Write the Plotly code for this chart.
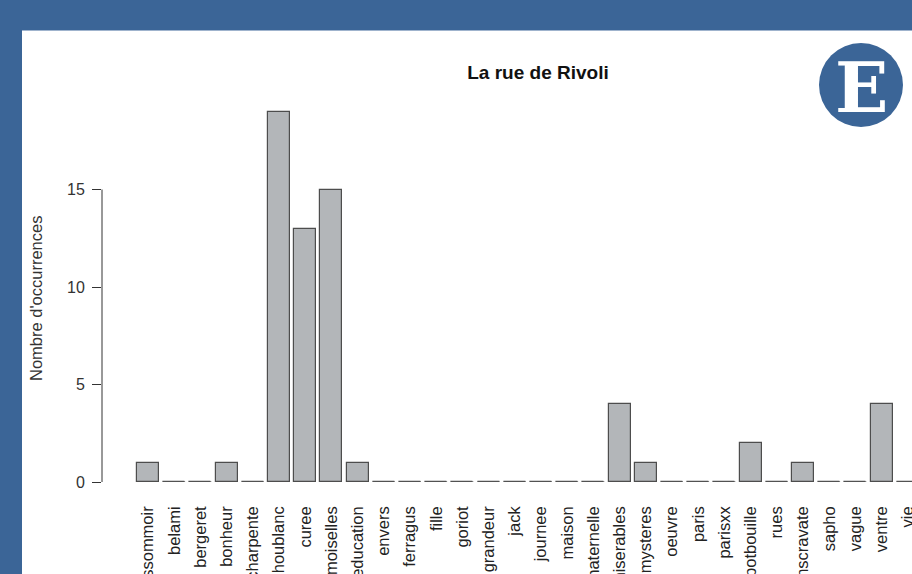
import plotly.graph_objects as go

categories = ["assommoir", "belami", "bergeret", "bonheur", "charpente", "houblanc",
              "curee", "demoiselles", "education", "envers", "ferragus", "fille",
              "goriot", "grandeur", "jack", "journee", "maison", "maternelle",
              "miserables", "mysteres", "oeuvre", "paris", "parisxx", "potbouille",
              "rues", "sanscravate", "sapho", "vague", "ventre", "vie"]
counts = [1, 0, 0, 1, 0, 19, 13, 15, 1, 0, 0, 0, 0, 0, 0, 0, 0, 0,
          4, 1, 0, 0, 0, 2, 0, 1, 0, 0, 4, 0]
y_ticks = [0, 5, 10, 15]

title_text = "La rue de Rivoli"
y_title = "Nombre d'occurrences"

BLUE = "#3b6597"
BAR_FILL = "#b3b6b9"
BAR_EDGE = "#4d4d4d"
FONT = "Liberation Sans, Arial, sans-serif"
BAR_W = 1 / 1.2

W, H = 912, 574
ML, MR, MT, MB = 102, 0, 100, 92
PW = W - ML - MR
PH = H - MT - MB
SLOT = 26.2  # px per category
first_center_px = 148

x_idx = list(range(len(categories)))
x0 = -(first_center_px - ML) / SLOT
x1 = x0 + PW / SLOT
y_max = PH / 19.5


def px_to_paper_x(px):
    return (px - ML) / PW


def py_to_paper_y(py):
    return (H - MB - py) / PH


fig = go.Figure()

fig.add_trace(go.Bar(
    x=x_idx, y=counts, width=BAR_W,
    marker=dict(color=BAR_FILL, line=dict(color=BAR_EDGE, width=1.2)),
    hoverinfo="x+y", showlegend=False,
))

# zero-height bars drawn as outline segments (as R does)
zx, zy = [], []
for i, v in zip(x_idx, counts):
    if v == 0:
        zx += [i - BAR_W / 2, i + BAR_W / 2, None]
        zy += [0, 0, None]
fig.add_trace(go.Scatter(x=zx, y=zy, mode="lines",
                         line=dict(color="#555555", width=1.3),
                         hoverinfo="skip", showlegend=False, cliponaxis=False))

shapes = [
    # white panel inside blue frame
    dict(type="rect", xref="paper", yref="paper", layer="below",
         x0=px_to_paper_x(22), x1=1.2, y0=-0.5, y1=py_to_paper_y(30),
         fillcolor="white", line=dict(width=0)),
    dict(type="line", xref="paper", yref="paper", layer="below",
         x0=px_to_paper_x(22), x1=1.2, y0=py_to_paper_y(30.5), y1=py_to_paper_y(30.5),
         line=dict(color="#9fb3cd", width=1)),
    # R-style y axis line from 0 to 15
    dict(type="line", xref="paper", yref="y", x0=0, x1=0,
         y0=y_ticks[0], y1=y_ticks[-1], line=dict(color="#333333", width=1)),
    # logo circle
    dict(type="circle", xref="paper", yref="paper",
         x0=px_to_paper_x(819), x1=px_to_paper_x(903),
         y0=py_to_paper_y(127), y1=py_to_paper_y(43),
         fillcolor=BLUE, line=dict(width=0), layer="above"),
]

annotations = [
    dict(text=y_title, xref="paper", yref="paper",
         x=px_to_paper_x(36), y=py_to_paper_y(299), textangle=-90,
         showarrow=False, font=dict(family=FONT, size=16.5, color="#333333"),
         xanchor="center", yanchor="middle"),
    dict(text="<b>E</b>", xref="paper", yref="paper",
         x=px_to_paper_x(861), y=py_to_paper_y(87), showarrow=False,
         font=dict(family="DejaVu Serif, Liberation Serif, serif", size=70, color="white"),
         xanchor="center", yanchor="middle"),
]

fig.update_layout(
    width=W, height=H,
    margin=dict(l=ML, r=MR, t=MT, b=MB, autoexpand=False),
    paper_bgcolor=BLUE, plot_bgcolor="white",
    title=dict(text="<b>" + title_text + "</b>", xref="paper", x=px_to_paper_x(538),
               xanchor="center", yref="container", y=1 - 72 / H, yanchor="middle",
               font=dict(family=FONT, size=19, color="#111111")),
    shapes=shapes, annotations=annotations,
    xaxis=dict(range=[x0, x1], tickmode="array", tickvals=x_idx, ticktext=categories,
               tickangle=-90, showgrid=False, zeroline=False, showline=False,
               ticks="", ticklabelstandoff=20, automargin=False,
               ticklabeloverflow="allow",
               tickfont=dict(family=FONT, size=16.5, color="#222222")),
    yaxis=dict(range=[0, y_max], tickmode="array", tickvals=y_ticks,
               ticks="outside", ticklen=9, tickcolor="#333333", tickwidth=1,
               showgrid=False, zeroline=False, showline=False, automargin=False,
               ticklabelstandoff=4,
               tickfont=dict(family=FONT, size=16, color="#333333")),
    bargap=0,
)

fig.write_html("out.html", config={"displayModeBar": False},
               post_script="document.body.style.margin='0';document.body.style.overflow='hidden';")
